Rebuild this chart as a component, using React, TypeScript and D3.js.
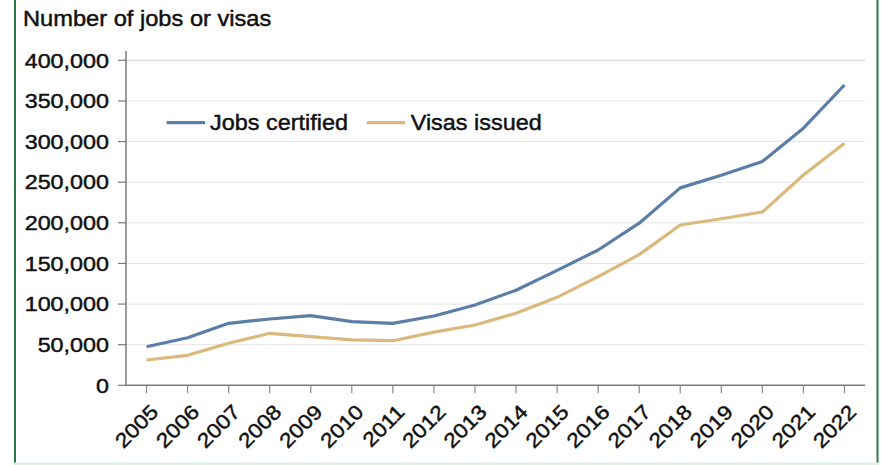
import React from "react";
import * as d3 from "d3";

const years: string[] = ["2005","2006","2007","2008","2009","2010","2011","2012","2013","2014","2015","2016","2017","2018","2019","2020","2021","2022"];
const jobsCertified: number[] = [47500, 58600, 76300, 81600, 85700, 78300, 76300, 85300, 98800, 117000, 141500, 166500, 199500, 243000, 258500, 275500, 316500, 369600];
const visasIssued: number[] = [31100, 36900, 51700, 64000, 59800, 55800, 54900, 65500, 74200, 88600, 108300, 133700, 160800, 197300, 205000, 213300, 258800, 297800];
const yTicks: number[] = [0, 50000, 100000, 150000, 200000, 250000, 300000, 350000, 400000];
const seriesNames: string[] = ["Jobs certified", "Visas issued"];
const seriesColors: string[] = ["#5a7ea6", "#dbb97c"];

const W = 881;
const H = 465;
const M = { left: 126, right: 865, top: 60.3, bottom: 385.3 };
const FONT = "'Liberation Sans', Arial, Helvetica, sans-serif";
const TEXT_STROKE = { stroke: "#111", strokeWidth: 0.45 };

export default function App() {
  const x = d3.scalePoint<string>().domain(years).range([M.left, M.right]).padding(0.5);
  const y = d3.scaleLinear().domain([0, 400000]).range([M.bottom, M.top]);
  const fmt = d3.format(",");
  const line = d3
    .line<number>()
    .x((_, i) => x(years[i]) as number)
    .y((d) => y(d));
  const series = [jobsCertified, visasIssued];

  return (
    <svg
      width={W}
      height={H}
      style={{ position: "absolute", left: 0, top: 0, background: "#fff" }}
      fontFamily={FONT}
    >
      <rect x={0} y={0} width={W} height={H} fill="#fff" />
      {/* frame */}
      <line x1={15} x2={15} y1={0} y2={463} stroke="#2f7a44" strokeWidth={2} />
      <line x1={877.5} x2={877.5} y1={0} y2={463} stroke="#2f7a44" strokeWidth={2} />
      <rect x={14} y={462.5} width={865} height={2.5} fill="#e3f0e6" />

      {/* title */}
      <text fontSize={21.5} fill="#111" {...TEXT_STROKE} transform="translate(23,26) scale(1.1,1)">
        Number of jobs or visas
      </text>

      {/* gridlines */}
      {yTicks.filter((t) => t > 0).map((t) => (
        <line
          key={"g" + t}
          x1={M.left}
          x2={M.right}
          y1={y(t)}
          y2={y(t)}
          stroke={t === 400000 ? "#d2d2d2" : "#e4e4e4"}
          strokeWidth={1}
        />
      ))}

      {/* y axis */}
      <line x1={M.left} x2={M.left} y1={51} y2={M.bottom} stroke="#7a7a7a" strokeWidth={1.5} />
      {yTicks.map((t) => (
        <g key={"yt" + t}>
          <line x1={M.left - 8} x2={M.left} y1={y(t)} y2={y(t)} stroke="#7a7a7a" strokeWidth={1.2} />
          <text
            fontSize={20.3}
            fill="#111"
            {...TEXT_STROKE}
            textAnchor="end"
            transform={`translate(109,${y(t) + 7.3}) scale(1.15,1)`}
          >
            {fmt(t)}
          </text>
        </g>
      ))}

      {/* x axis */}
      <line x1={M.left} x2={M.right} y1={M.bottom} y2={M.bottom} stroke="#7a7a7a" strokeWidth={1.5} />
      {years.map((yr) => (
        <g key={"xt" + yr}>
          <line
            x1={x(yr) as number}
            x2={x(yr) as number}
            y1={M.bottom}
            y2={M.bottom + 8}
            stroke="#8a8a8a"
            strokeWidth={1.2}
          />
          <text
            fontSize={20.3}
            fill="#111"
            {...TEXT_STROKE}
            textAnchor="end"
            transform={`translate(${(x(yr) as number) + 13},${M.bottom + 28}) rotate(-45) scale(1.13,1)`}
          >
            {yr}
          </text>
        </g>
      ))}

      {/* lines */}
      {series.map((s, i) => (
        <path
          key={"s" + i}
          d={line(s) || ""}
          fill="none"
          stroke={seriesColors[i]}
          strokeWidth={3.2}
          strokeLinejoin="round"
          strokeLinecap="butt"
        />
      ))}

      {/* legend */}
      {[
        { x1: 166.7, x2: 205, tx: 210 },
        { x1: 366.7, x2: 405, tx: 410.7 },
      ].map((l, i) => (
        <g key={"l" + i}>
          <line x1={l.x1} x2={l.x2} y1={122.7} y2={122.7} stroke={seriesColors[i]} strokeWidth={3.2} />
          <text
            fontSize={22.3}
            fill="#111"
            {...TEXT_STROKE}
            transform={`translate(${l.tx},129.5) scale(1.05,1)`}
          >
            {seriesNames[i]}
          </text>
        </g>
      ))}
    </svg>
  );
}
